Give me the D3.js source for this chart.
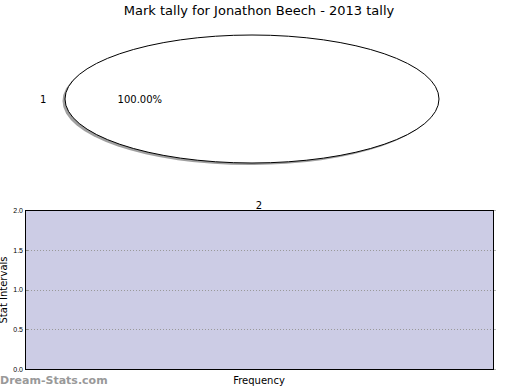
<!DOCTYPE html>
<html>
<head>
<meta charset="utf-8">
<script src="https://cdn.jsdelivr.net/npm/d3@7"></script>
<style>
  body { margin: 0; background: #fff; }
  svg { display: block; font-family: "DejaVu Sans", sans-serif; }
</style>
</head>
<body>
<div id="viz"></div>
<script>
// pie data
var pieLabels = ["1"];
var pieValues = [1];
// bar panel
var yTicks = [0.0, 0.5, 1.0, 1.5, 2.0];
var xTickLabels = ["2"];
var title = "Mark tally for Jonathon Beech - 2013 tally";

var width = 520, height = 390;

var svg = d3.select("#viz").append("svg")
  .attr("width", width)
  .attr("height", height);

svg.append("text")
  .attr("x", 259).attr("y", 15)
  .attr("text-anchor", "middle")
  .style("font-size", "13px")
  .text(title);

// ---- pie (ellipse via scale) ----
var cx = 252, cy = 99, rx = 187, ry = 64;
var pie = d3.pie().sort(null)
  .startAngle(Math.PI / 2)
  .endAngle(Math.PI / 2 - 2 * Math.PI);
var arcs = pie(pieValues);
var arc = d3.arc().innerRadius(0).outerRadius(1);

var pg = svg.append("g")
  .attr("transform", "translate(" + cx + "," + cy + ")");

// shadow
pg.append("g")
  .attr("transform", "translate(-2.5,2) scale(" + rx + "," + ry + ")")
  .selectAll("path").data(arcs).enter().append("path")
  .attr("d", arc)
  .attr("fill", "#888")
  .attr("opacity", 0.8);

pg.append("g")
  .attr("transform", "scale(" + rx + "," + ry + ")")
  .selectAll("path").data(arcs).enter().append("path")
  .attr("d", arc)
  .attr("fill", "#fff")
  .attr("stroke", "#000")
  .attr("stroke-width", 1)
  .attr("vector-effect", "non-scaling-stroke");

var total = d3.sum(pieValues);
arcs.forEach(function(d, i) {
  var a = (d.startAngle + d.endAngle) / 2;
  var sx = Math.sin(a), sy = -Math.cos(a);
  pg.append("text")
    .attr("x", 1.1 * rx * sx).attr("y", 1.1 * ry * sy)
    .attr("dy", "0.35em")
    .attr("text-anchor", sx < -0.01 ? "end" : (sx > 0.01 ? "start" : "middle"))
    .style("font-size", "10px")
    .text(pieLabels[i]);
  pg.append("text")
    .attr("x", 0.6 * rx * sx).attr("y", 0.6 * ry * sy)
    .attr("dy", "0.35em")
    .attr("text-anchor", "middle")
    .style("font-size", "10px")
    .text((100 * pieValues[i] / total).toFixed(2) + "%");
});

// ---- bottom panel ----
var pLeft = 25, pRight = 493, pTop = 210, pBottom = 369;
var y = d3.scaleLinear().domain([0, 2]).range([pBottom, pTop]);

svg.append("rect")
  .attr("x", pLeft).attr("y", pTop)
  .attr("width", pRight - pLeft).attr("height", pBottom - pTop)
  .attr("fill", "#ccccE5");

svg.append("g").selectAll("line")
  .data(yTicks.filter(function(t) { return t > 0 && t < 2; }))
  .enter().append("line")
  .attr("x1", pLeft).attr("x2", pRight)
  .attr("y1", function(d) { return Math.round(y(d)) + 0.5; })
  .attr("y2", function(d) { return Math.round(y(d)) + 0.5; })
  .attr("stroke", "#999")
  .attr("stroke-dasharray", "1,2");

var axL = svg.append("g")
  .attr("transform", "translate(" + pLeft + ",0)")
  .call(d3.axisLeft(y).tickValues(yTicks).tickFormat(d3.format(".1f")).tickSize(0).tickPadding(2));
axL.select(".domain").remove();
axL.selectAll("text").style("font-size", "7px").attr("fill", "#000");

// small tick marks inside left, outside right
svg.append("g").selectAll("line").data(yTicks).enter().append("line")
  .attr("x1", pLeft).attr("x2", pLeft + 3)
  .attr("y1", function(d) { return Math.round(y(d)) + 0.5; })
  .attr("y2", function(d) { return Math.round(y(d)) + 0.5; })
  .attr("stroke", "#888");
svg.append("g").selectAll("line").data(yTicks).enter().append("line")
  .attr("x1", pRight).attr("x2", pRight + 3)
  .attr("y1", function(d) { return Math.round(y(d)) + 0.5; })
  .attr("y2", function(d) { return Math.round(y(d)) + 0.5; })
  .attr("stroke", "#bbb");

svg.append("rect")
  .attr("x", pLeft + 0.5).attr("y", pTop + 0.5)
  .attr("width", pRight - pLeft).attr("height", pBottom - pTop)
  .attr("fill", "none")
  .attr("stroke", "#000");

var x = d3.scaleBand().domain(xTickLabels).range([pLeft, pRight]);
svg.selectAll(".xt").data(xTickLabels).enter().append("text")
  .attr("x", function(d) { return x(d) + x.bandwidth() / 2; })
  .attr("y", pTop - 1)
  .attr("text-anchor", "middle")
  .style("font-size", "10px")
  .text(function(d) { return d; });

svg.append("text")
  .attr("x", 259).attr("y", 384)
  .attr("text-anchor", "middle")
  .style("font-size", "10px")
  .text("Frequency");

svg.append("text")
  .attr("transform", "translate(7,290) rotate(-90)")
  .attr("text-anchor", "middle")
  .style("font-size", "10px")
  .text("Stat Intervals");

svg.append("text")
  .attr("x", 0).attr("y", 384)
  .style("font-size", "11px")
  .style("font-weight", "bold")
  .attr("fill", "#999")
  .text("Dream-Stats.com");
</script>
</body>
</html>
